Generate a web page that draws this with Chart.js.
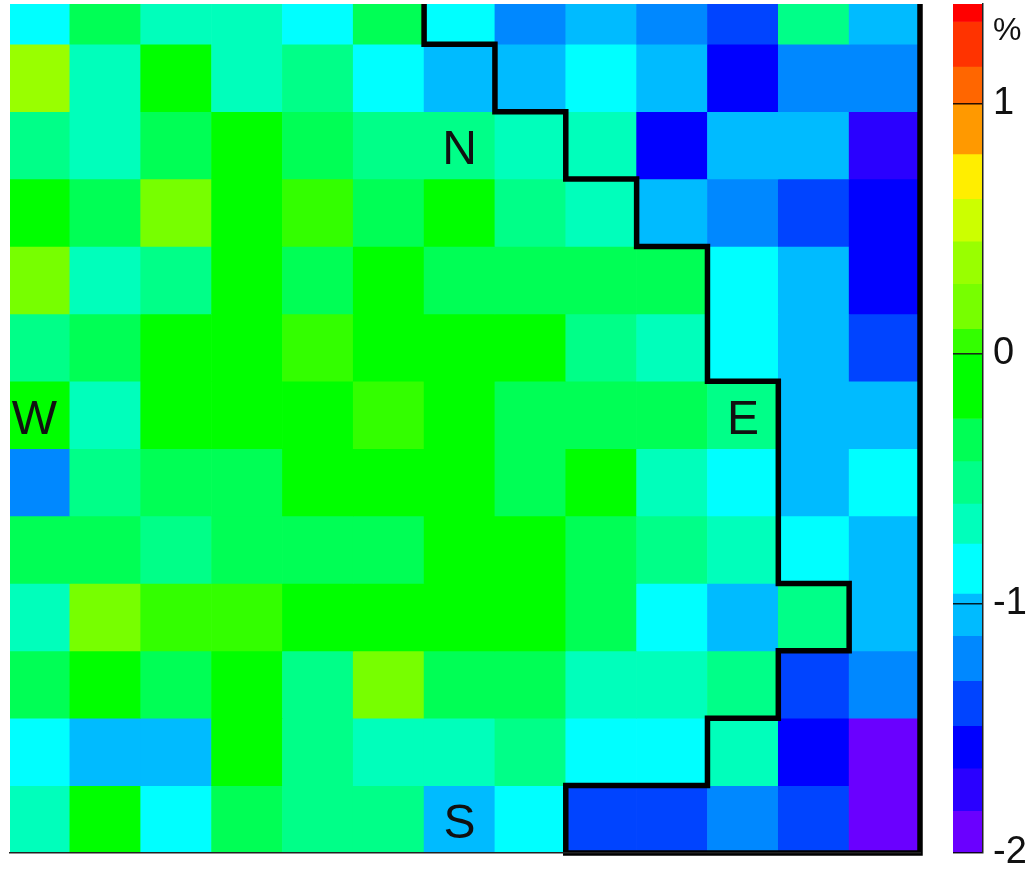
<!DOCTYPE html>
<html>
<head>
<meta charset="utf-8">
<script src="https://cdn.jsdelivr.net/npm/chart.js@4.4.1/dist/chart.umd.min.js"></script>
<style>
  html, body { margin: 0; padding: 0; background: #fff; }
  #wrap { position: relative; width: 1035px; height: 869px; }
  #map-box { position: absolute; left: 0; top: 0; width: 930px; height: 869px; }
  #bar-box { position: absolute; left: 930px; top: 0; width: 105px; height: 869px; }
</style>
</head>
<body>
<div id="wrap">
  <div id="map-box"><canvas id="map"></canvas></div>
  <div id="bar-box"><canvas id="colorbar"></canvas></div>
</div>
<script>
// anomaly per grid cell (%), rows from north to south, columns from west to east
const heatValues = [
  [-0.87, -0.33, -0.69, -0.66, -0.84, -0.36, -0.88, -1.21, -1.05, -1.24, -1.39, -0.49, -1.02],
  [ 0.38, -0.67, -0.12, -0.70, -0.52, -0.85, -1.03, -1.06, -0.87, -1.01, -1.58, -1.22, -1.19],
  [-0.50, -0.71, -0.32, -0.15, -0.35, -0.48, -0.53, -0.68, -0.66, -1.55, -1.04, -1.07, -1.75],
  [-0.10, -0.31,  0.18, -0.14,  0.04, -0.37, -0.11, -0.52, -0.70, -1.02, -1.23, -1.42, -1.59],
  [ 0.21, -0.69, -0.54, -0.09, -0.33, -0.16, -0.30, -0.35, -0.29, -0.38, -0.86, -1.05, -1.56],
  [-0.47, -0.34, -0.12, -0.18,  0.06, -0.08, -0.13, -0.20, -0.55, -0.67, -0.83, -1.03, -1.41],
  [-0.11, -0.72, -0.14, -0.06, -0.17,  0.03, -0.12, -0.31, -0.36, -0.33, -0.46, -1.06, -1.01],
  [-1.20, -0.51, -0.36, -0.32, -0.15, -0.10, -0.19, -0.34, -0.07, -0.69, -0.89, -1.08, -0.84],
  [-0.30, -0.35, -0.56, -0.37, -0.31, -0.34, -0.14, -0.11, -0.33, -0.50, -0.71, -0.88, -1.04],
  [-0.67,  0.20,  0.04,  0.07, -0.13, -0.09, -0.16, -0.12, -0.30, -0.87, -1.04, -0.53, -1.02],
  [-0.36, -0.12, -0.33, -0.17, -0.52,  0.17, -0.35, -0.31, -0.68, -0.66, -0.49, -1.43, -1.23],
  [-0.85, -1.06, -1.03, -0.14, -0.54, -0.70, -0.67, -0.48, -0.88, -0.86, -0.69, -1.60, -1.90],
  [-0.69, -0.11, -0.87, -0.32, -0.51, -0.47, -1.05, -0.84, -1.38, -1.41, -1.21, -1.39, -1.93]
];

// colour levels of the colour bar
const levels = [-2, -1.83, -1.66, -1.49, -1.31, -1.13, -0.96, -0.76, -0.6, -0.43, -0.26,
  0, 0.1, 0.28, 0.45, 0.62, 0.8, 1.0, 1.15, 1.33, 1.4];
const levelColors = ['#6a00ff', '#2a00ff', '#0000ff', '#0044ff', '#0088ff', '#00bbff',
  '#00ffff', '#00ffbb', '#00ff88', '#00ff55', '#00ff00', '#33ff00', '#77ff00', '#99ff00',
  '#ccff00', '#ffee00', '#ff9900', '#ff6600', '#ff3300', '#ff0000'];
const barTicks = [-2, -1, 0, 1];

// outline of the eastern region, in grid units (column edge, row edge)
const outlineCols = [6, 6, 7, 7, 8, 8, 9, 9, 10, 10, 11, 11, 12, 12, 11, 11, 10, 10, 8, 8, 13, 13];
const outlineRows = [0, 1, 1, 2, 2, 3, 3, 4, 4, 6, 6, 9, 9, 10, 10, 11, 11, 12, 12, 13, 13, 0];

// compass letters and the cells they sit in
const compassNames = ['N', 'W', 'E', 'S'];
const compassCols = [6, 0, 10, 6];
const compassRows = [2, 6, 6, 12];

const gridCols = [1, 2, 3, 4, 5, 6, 7, 8, 9, 10, 11, 12, 13];
const FONT = '"Liberation Sans", Arial, Helvetica, sans-serif';

function levelColor(v) {
    for (let i = 0; i < levelColors.length; i++) {
        if (v < levels[i + 1]) return levelColors[i];
    }
    return levelColors[levelColors.length - 1];
}

const rowSets = heatValues.map(function(row, r) {
    return {
        type: 'bar',
        data: row.map(function(v, c) { return { x: c + 0.5, y: [r, r + 1] }; }),
        backgroundColor: row.map(levelColor),
        borderWidth: 0,
        grouped: false,
        barPercentage: 1,
        categoryPercentage: 1,
        clip: 0,
        order: 1
    };
});

const outlineSet = {
    type: 'line',
    data: outlineCols.map(function(x, i) { return { x: x, y: outlineRows[i] }; }),
    borderColor: '#000',
    borderWidth: 5.5,
    borderJoinStyle: 'miter',
    pointRadius: 0,
    fill: false,
    tension: 0,
    clip: { left: 0, top: 0, right: 4, bottom: 4 },
    order: 0
};

const compassText = {
    id: 'compassText',
    afterDatasetsDraw(chart) {
        const { ctx, scales } = chart;
        ctx.save();
        ctx.font = '48px ' + FONT;
        ctx.fillStyle = '#111';
        ctx.textAlign = 'center';
        ctx.textBaseline = 'alphabetic';
        for (let i = 0; i < compassNames.length; i++) {
            const x = scales.x.getPixelForValue(compassCols[i] + 0.5);
            const y = scales.y.getPixelForValue(compassRows[i] + 0.5);
            ctx.fillText(compassNames[i], x, y + 19);
        }
        ctx.restore();
    }
};

new Chart(document.getElementById('map'), {
    type: 'bar',
    data: { datasets: rowSets.concat([outlineSet]) },
    options: {
        responsive: true,
        maintainAspectRatio: false,
        animation: false,
        events: [],
        layout: { padding: { left: 10, right: 10, top: 4, bottom: 16 } },
        plugins: { legend: { display: false }, tooltip: { enabled: false } },
        scales: {
            x: {
                type: 'linear',
                min: 0.155,
                max: 13,
                offset: false,
                afterBuildTicks: function(scale) {
                    scale.ticks = gridCols.map(function(v) { return { value: v }; });
                },
                afterFit: function(scale) { scale.height = 0; },
                ticks: { display: false },
                grid: { display: false, drawTicks: false },
                border: { display: true, color: '#222', width: 1.5, z: 1 }
            },
            y: {
                type: 'linear',
                reverse: true,
                min: 0.403,
                max: 13,
                display: false
            }
        }
    },
    plugins: [compassText]
});

const percentLabel = {
    id: 'percentLabel',
    afterDraw(chart) {
        const ctx = chart.ctx;
        ctx.save();
        ctx.font = '32px ' + FONT;
        ctx.fillStyle = '#111';
        ctx.textAlign = 'left';
        ctx.textBaseline = 'middle';
        ctx.fillText('%', chart.scales.y.left + 10, 31);
        ctx.restore();
    }
};

new Chart(document.getElementById('colorbar'), {
    type: 'bar',
    data: {
        datasets: [{
            data: levelColors.map(function(col, i) { return { x: 0.5, y: [levels[i], levels[i + 1]] }; }),
            backgroundColor: levelColors,
            borderWidth: 0,
            barPercentage: 1,
            categoryPercentage: 1,
            clip: 0
        }]
    },
    options: {
        responsive: true,
        maintainAspectRatio: false,
        animation: false,
        events: [],
        layout: { padding: { left: 23, right: 0, top: 4, bottom: 16 } },
        plugins: { legend: { display: false }, tooltip: { enabled: false } },
        scales: {
            x: {
                type: 'linear',
                min: 0,
                max: 1,
                offset: false,
                display: false,
                afterBuildTicks: function(scale) { scale.ticks = []; }
            },
            y: {
                type: 'linear',
                position: 'right',
                min: -2,
                max: 1.4,
                afterBuildTicks: function(scale) {
                    scale.ticks = barTicks.map(function(v) { return { value: v }; });
                },
                afterFit: function(scale) {
                    // keep the bar full height: no extra room for the end labels
                    scale.width = 52;
                    scale.paddingTop = 0;
                    scale.paddingBottom = 0;
                },
                grid: { color: 'rgba(0,0,0,0.85)', lineWidth: 1.5, drawTicks: false, z: 1 },
                border: { color: '#222', width: 1.5, z: 1 },
                ticks: {
                    padding: 10,
                    color: '#111',
                    font: { family: FONT, size: 38 },
                    callback: function(v) { return String(v); }
                }
            }
        }
    },
    plugins: [percentLabel]
});
</script>
</body>
</html>
